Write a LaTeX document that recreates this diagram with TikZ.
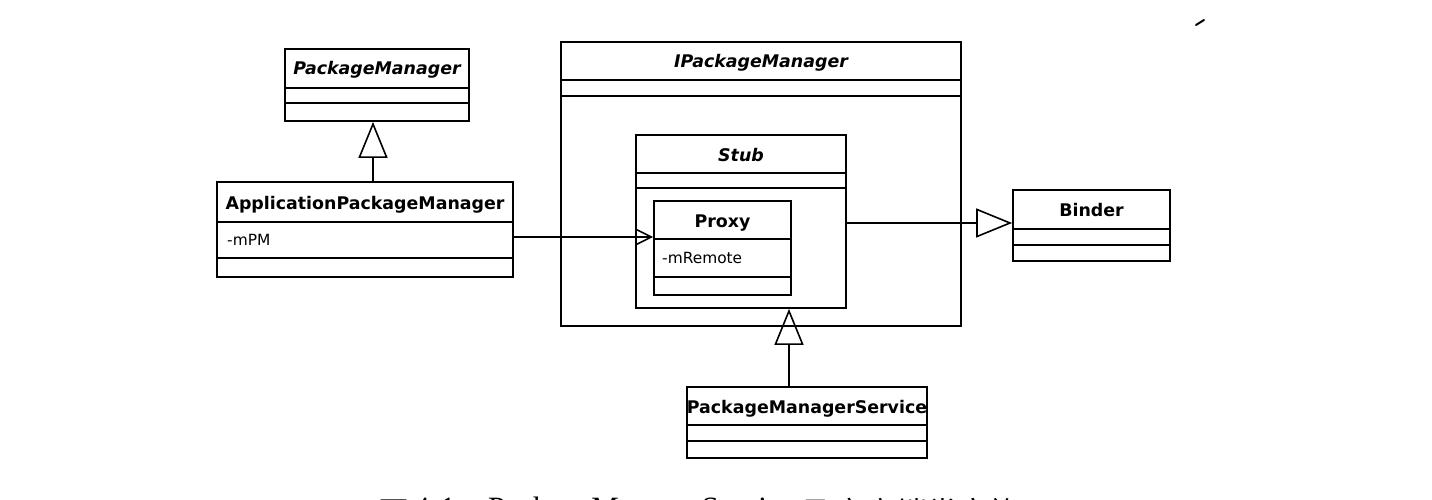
\documentclass[tikz,border=0pt]{standalone}
\usepackage{fontspec}
\setmainfont{DejaVu Sans}
\newfontfamily\capcjk{Noto Sans CJK SC}
\newfontfamily\capserif{Liberation Serif}
\usetikzlibrary{arrows.meta}
\begin{document}
\begin{tikzpicture}[x=1pt,y=-1pt,
  box/.style={draw=black, line width=1.7pt, inner sep=0pt},
  sep/.style={draw=black, line width=1.7pt},
  ttl/.style={font=\fontsize{17.4}{20}\selectfont\bfseries, inner sep=0pt, anchor=base},
  ittl/.style={font=\fontsize{17.4}{20}\selectfont\bfseries\itshape, inner sep=0pt, anchor=base},
  attr/.style={font=\fontsize{15.4}{18}\selectfont, inner sep=0pt, anchor=base west},
  gen/.style={draw=black, line width=1.6pt, -{Triangle[open, length=36pt, width=29pt, line width=1.6pt]}},
  assoc/.style={draw=black, line width=1.6pt, -{Straight Barb[length=15pt, width=15pt, line width=1.6pt]}},
  capt/.style={font=\fontsize{31}{31}\selectfont, inner sep=0pt, anchor=base west}]
\clip (0,0) rectangle (1432,500);
\fill[white] (0,0) rectangle (1432,500);

% PackageManager
\node[box, minimum width=184pt, minimum height=72pt] (pm) at (377,85) {};
\node[ittl] (pmt) at (377,75) {PackageManager};
\draw[sep] (pm.west |- 0,88) -- (pm.east |- 0,88);
\draw[sep] (pm.west |- 0,103) -- (pm.east |- 0,103);

% ApplicationPackageManager
\node[box, minimum width=296pt, minimum height=95pt] (apm) at (365,229.5) {};
\node[ttl] (apmt) at (365,209) {ApplicationPackageManager};
\draw[sep] (apm.west |- 0,222) -- (apm.east |- 0,222);
\draw[sep] (apm.west |- 0,258) -- (apm.east |- 0,258);
\node[attr] (apma) at (227,245.5) {-mPM};

% IPackageManager
\node[box, minimum width=400pt, minimum height=284pt] (ipm) at (761,184) {};
\node[ittl] (ipmt) at (761,68) {IPackageManager};
\draw[sep] (ipm.west |- 0,80) -- (ipm.east |- 0,80);
\draw[sep] (ipm.west |- 0,96) -- (ipm.east |- 0,96);

% Stub
\node[box, minimum width=210pt, minimum height=173pt] (stub) at (741,221.5) {};
\node[ittl] (stubt) at (741,161) {Stub};
\draw[sep] (stub.west |- 0,173) -- (stub.east |- 0,173);
\draw[sep] (stub.west |- 0,188) -- (stub.east |- 0,188);

% Proxy
\node[box, minimum width=137pt, minimum height=94pt] (proxy) at (722.5,248) {};
\node[ttl] (proxyt) at (722.5,227) {Proxy};
\draw[sep] (proxy.west |- 0,239) -- (proxy.east |- 0,239);
\draw[sep] (proxy.west |- 0,277) -- (proxy.east |- 0,277);
\node[attr] (proxya) at (662,263.5) {-mRemote};

% Binder
\node[box, minimum width=157pt, minimum height=71pt] (binder) at (1091.5,225.5) {};
\node[ttl] (bindert) at (1091.5,216.5) {Binder};
\draw[sep] (binder.west |- 0,229) -- (binder.east |- 0,229);
\draw[sep] (binder.west |- 0,245) -- (binder.east |- 0,245);

% PackageManagerService
\node[box, minimum width=240pt, minimum height=71pt] (pms) at (807,422.5) {};
\node[ttl] (pmst) at (807,413) {PackageManagerService};
\draw[sep] (pms.west |- 0,425) -- (pms.east |- 0,425);
\draw[sep] (pms.west |- 0,441) -- (pms.east |- 0,441);

% connectors
\coordinate (g1) at ([xshift=-4pt]pm.south);
\draw[gen] (g1 |- apm.north) -- (g1);
\coordinate (a1) at ([yshift=-7.5pt]apm.east);
\draw[assoc] (a1) -- (a1 -| proxy.west);
\coordinate (b1) at ([yshift=-1.5pt]stub.east);
\draw[gen] (b1) -- (b1 -| binder.west);
\coordinate (g2) at (789,0);
\draw[gen] (g2 |- pms.north) -- (g2 |- stub.south);

% stray mark
\draw[line width=2pt, line cap=round] (1196,25) -- (1204,20);

% caption (cut off at the page edge, as in the reference)
\node[capt] (cap1) at (378,524) {\capcjk 图};
\node[capt] (cap1b) at (414,518) {\capserif 4-1};
\node[capt] (cap2) at (488,518) {\capserif PackageManagerService};
\node[capt] (cap3) at (803,524) {\capcjk 及客户端类家族};
\end{tikzpicture}
\end{document}
